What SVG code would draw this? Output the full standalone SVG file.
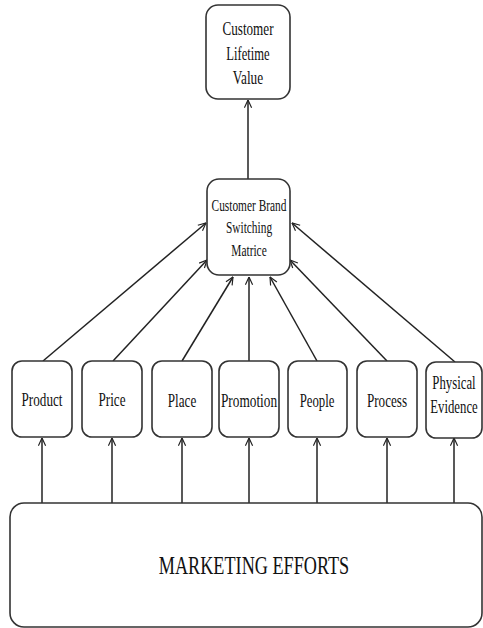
<svg xmlns="http://www.w3.org/2000/svg" width="483" height="628" viewBox="0 0 483 628">
<style>
.box{fill:#fff;stroke:#333;stroke-width:1.6}
.lbl{font-family:"Liberation Serif","Times New Roman",serif;font-size:18px;fill:#111;text-anchor:middle}
.sm{font-size:17px}
.big{font-family:"Liberation Serif","Times New Roman",serif;font-size:26px;fill:#111;text-anchor:middle}
.con{stroke:#222;stroke-width:1.5;fill:none;marker-end:url(#ah)}
</style>
<defs>
<marker id="ah" viewBox="0 0 10 10" refX="9.5" refY="5" markerWidth="9" markerHeight="9" markerUnits="userSpaceOnUse" orient="auto">
<path d="M1,1 L9.5,5 L1,9" fill="none" stroke="#222" stroke-width="1.3"/>
</marker>
</defs>
<rect width="483" height="628" fill="#fff"/>
<g id="connectors">
<path class="con" d="M248,179 L248,100"/>
<path class="con" d="M42,503 L42,438"/>
<path class="con" d="M112,503 L112,438"/>
<path class="con" d="M182,503 L182,438"/>
<path class="con" d="M249,503 L249,438"/>
<path class="con" d="M317,503 L317,438"/>
<path class="con" d="M387,503 L387,438"/>
<path class="con" d="M454,503 L454,438"/>
<path class="con" d="M43,361 L206,223"/>
<path class="con" d="M113,361 L207,260"/>
<path class="con" d="M182,361 L233,277"/>
<path class="con" d="M249,361 L249,277"/>
<path class="con" d="M317,361 L270,277"/>
<path class="con" d="M387,361 L290,260"/>
<path class="con" d="M455,362 L292,223"/>
</g>
<g id="clv">
<rect class="box" x="206" y="5" width="84" height="94" rx="12"/>
<text class="lbl" transform="translate(248,35) scale(0.73,1)">Customer</text>
<text class="lbl" transform="translate(248,60) scale(0.70,1)">Lifetime</text>
<text class="lbl" transform="translate(248,84) scale(0.74,1)">Value</text>
</g>
<g id="cbsm">
<rect class="box" x="207" y="179" width="83" height="96" rx="12"/>
<text class="lbl sm" transform="translate(249,211) scale(0.67,1)">Customer Brand</text>
<text class="lbl sm" transform="translate(249,233) scale(0.67,1)">Switching</text>
<text class="lbl sm" transform="translate(249,256) scale(0.67,1)">Matrice</text>
</g>
<g id="product">
<rect class="box" x="12" y="361" width="60" height="76" rx="10"/>
<text class="lbl" transform="translate(42,406) scale(0.73,1)">Product</text>
</g>
<g id="price">
<rect class="box" x="82" y="361" width="60" height="76" rx="10"/>
<text class="lbl" transform="translate(112,406) scale(0.73,1)">Price</text>
</g>
<g id="place">
<rect class="box" x="152" y="361" width="60" height="76" rx="10"/>
<text class="lbl" transform="translate(182,407) scale(0.73,1)">Place</text>
</g>
<g id="promotion">
<rect class="box" x="219" y="361" width="60" height="76" rx="10"/>
<text class="lbl" transform="translate(249,407) scale(0.74,1)">Promotion</text>
</g>
<g id="people">
<rect class="box" x="288" y="361" width="59" height="76" rx="10"/>
<text class="lbl" transform="translate(317,407) scale(0.71,1)">People</text>
</g>
<g id="process">
<rect class="box" x="357" y="361" width="60" height="76" rx="10"/>
<text class="lbl" transform="translate(387,407) scale(0.73,1)">Process</text>
</g>
<g id="physical-evidence">
<rect class="box" x="426" y="362" width="56" height="76" rx="10"/>
<text class="lbl" transform="translate(454,389) scale(0.71,1)">Physical</text>
<text class="lbl" transform="translate(454,413) scale(0.71,1)">Evidence</text>
</g>
<g id="marketing-efforts">
<rect class="box" x="10" y="503" width="472" height="124" rx="14"/>
<text class="big" transform="translate(254,574) scale(0.70,1)">MARKETING EFFORTS</text>
</g>
</svg>
